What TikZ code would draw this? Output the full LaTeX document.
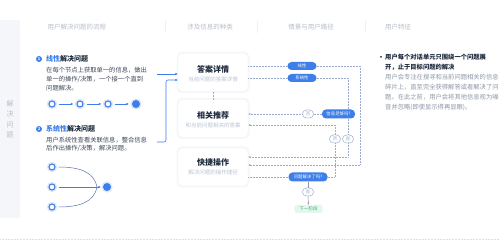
\documentclass[tikz,border=0pt]{standalone}
\usepackage{fontspec}
\setmainfont{Noto Sans CJK SC}
\usetikzlibrary{arrows.meta,calc}
\definecolor{mblue}{HTML}{3D7EEA}
\definecolor{halo}{HTML}{DCE7FB}
\definecolor{dotc}{HTML}{9AACCE}
\definecolor{hdrc}{HTML}{B7BECB}
\definecolor{bodyc}{HTML}{3C4656}
\definecolor{grayt}{HTML}{8E97A7}
\definecolor{titlec}{HTML}{1E2B3E}
\definecolor{subc}{HTML}{BBC4D4}
\definecolor{sidec}{HTML}{F4F6FA}
\definecolor{cardline}{HTML}{EEF1F6}
\definecolor{cardglow}{HTML}{F6F7FA}
\definecolor{greenbg}{HTML}{E4F7EC}
\definecolor{greent}{HTML}{3CB371}
\definecolor{curvec}{HTML}{5A74B0}
\definecolor{sepc}{HTML}{EEF0F5}
\definecolor{botc}{HTML}{DDE1E8}
\begin{document}
\begin{tikzpicture}[x=1pt,y=-1pt,
  hdr/.style={font=\fontsize{6.5}{7}\selectfont, text=hdrc, inner sep=0pt},
  body/.style={font=\fontsize{6.3}{7}\selectfont, text=bodyc, anchor=west, inner sep=0pt},
  rbody/.style={font=\fontsize{6.3}{7}\selectfont, text=grayt, anchor=west, inner sep=0pt},
  rbold/.style={font=\fontsize{6.3}{7}\bfseries\selectfont, text=titlec, anchor=west, inner sep=0pt},
  ltitle/.style={font=\fontsize{7}{8}\bfseries\selectfont, text=titlec, anchor=west, inner sep=0pt},
  card/.style={draw=cardline, fill=white, rounded corners=4pt, minimum width=70pt, minimum height=38pt, line width=0.4pt,
     preaction={draw=cardglow, line width=3pt}},
  ctitle/.style={font=\fontsize{8}{9}\bfseries\selectfont, text=titlec, inner sep=0pt},
  csub/.style={font=\fontsize{5.5}{6}\selectfont, text=subc, inner sep=0pt},
  pill/.style={fill=mblue, text=white, rounded corners=4pt, minimum width=29pt, minimum height=8pt, inner sep=0pt, font=\fontsize{4.4}{5}\selectfont},
  yn/.style={draw=dotc, fill=white, text=dotc, rounded corners=4pt, minimum width=11pt, minimum height=8pt, inner sep=0pt, line width=0.5pt, font=\fontsize{4.4}{5}\selectfont},
  dotl/.style={draw=dotc, densely dotted, line width=0.5pt},
  dotarr/.style={dotl, -{Latex[length=2.2pt,width=2.2pt]}},
  barr/.style={draw=mblue, line width=0.6pt, -{Latex[length=2.5pt,width=2.5pt]}},
  hollow/.style={circle, draw=mblue, line width=1.1pt, fill=white, minimum size=6pt, inner sep=0pt, preaction={draw=halo, line width=4pt}},
  filled/.style={circle, fill=mblue, minimum size=8pt, inner sep=0pt, preaction={draw=halo, line width=3pt}},
  badge/.style={circle, fill=mblue, text=white, minimum size=6pt, inner sep=0pt, font=\fontsize{4}{4}\bfseries\selectfont}
]
\useasboundingbox (0,0) rectangle (499,240);
\fill[white] (0,0) rectangle (499,240);

% sidebar
\fill[sidec] (0,20) rectangle (20,218);
\node[align=center, font=\fontsize{7}{10.4}\selectfont, text=hdrc, inner sep=0pt] (side) at (10,119.5) {解\\决\\问\\题};

% headers
\node[hdr] (h1) at (77,27) {用户解决问题的流程};
\node[hdr] (h2) at (210,27) {涉及信息的种类};
\node[hdr] (h3) at (311,27) {情景与用户路径};
\node[hdr] (h4) at (398,27) {用户特征};
\foreach \x in {165,257,365} \draw[sepc, line width=1pt] (\x,21) -- (\x,33);

% left: linear
\node[badge] (n1) at (39,59) {1};
\node[ltitle] (lt1) at (46,59) {{\color{mblue}线性}解决问题};
\node[body] (lb1) at (46,70.5) {在每个节点上获取单一的信息，做出};
\node[body] (lb2) at (46,79.5) {单一的操作/决策，一个接一个直到};
\node[body] (lb3) at (46,88.5) {问题解决。};
\node[hollow] (c1) at (52,104) {};
\node[hollow] (c2) at (80,104) {};
\node[hollow] (c3) at (108,104) {};
\node[filled] (c4) at (136,104) {};
\draw[barr, shorten <=3pt, shorten >=3pt] (c1) -- (c2);
\draw[barr, shorten <=3pt, shorten >=3pt] (c2) -- (c3);
\draw[barr, shorten <=3pt, shorten >=3pt] (c3) -- (c4);

% left: systematic
\node[badge] (n2) at (39,129) {2};
\node[ltitle] (lt2) at (46,129) {{\color{mblue}系统性}解决问题};
\node[body] (lb4) at (46,140) {用户系统性查看关联信息，整合信息};
\node[body] (lb5) at (46,148.5) {后作出操作/决策，解决问题。};
\node[hollow] (sa) at (52,167) {};
\node[hollow] (sb) at (52,187) {};
\node[hollow] (sc) at (52,207) {};
\node[filled] (fc) at (107,187) {};
\coordinate (m1) at (97,187);
\draw[curvec, line width=0.5pt] ([xshift=3pt]sa.east) .. controls (80,167) and (94,172) .. (m1);
\draw[curvec, line width=0.5pt] ([xshift=3pt]sc.east) .. controls (80,207) and (94,202) .. (m1);
\draw[barr, shorten <=3pt, shorten >=2pt] (sb.east) -- (fc.west);

% cards
\node[card] (b1) at (213,72.5) {};
\node[ctitle] (b1t) at (213,69) {答案详情};
\node[csub] (b1s) at (213,79) {当前问题的答案详情};
\node[card] (b2) at (213,118.5) {};
\node[ctitle] (b2t) at (213,115) {相关推荐};
\node[csub] (b2s) at (213,125) {和当前问题相关的答案};
\node[card] (b3) at (213,167) {};
\node[ctitle] (b3t) at (213,162) {快捷操作};
\node[csub] (b3s) at (213,172) {解决问题的操作捷径};
\draw[dotl] (b1.south) -- (b2.north);

% bracket arrows from left
\coordinate (s1) at (157,74);
\coordinate (s2) at (157,142);
\coordinate (k1) at (166,80);
\draw[barr] (s1) -- (s1 -| b1.west);
\draw[barr, rounded corners=2pt] (s2) -| (k1) -- (k1 -| b1.west);

% flow nodes
\node[pill] (lin) at (302,66) {线性};
\node[pill] (sys) at (302,78) {系统性};
\node[pill, minimum width=33pt, minimum height=9pt] (enough) at (338.5,114) {信息足够吗?};
\node[pill, minimum width=39pt, minimum height=9pt] (solved) at (308,177) {问题解决了吗?};
\node[yn] (fou1) at (308,114) {否};
\node[yn] (fou2) at (335,139) {否};
\node[yn] (shi1) at (348,139) {是};
\node[yn] (shi2) at (308,192) {是};
\node[fill=greenbg, text=greent, rounded corners=2pt, minimum width=28pt, minimum height=8pt, inner sep=0pt, font=\fontsize{4.6}{5}\selectfont] (next) at (308.5,209) {下一阶段};

% flow connectors
\coordinate (c165) at (360,165);
\coordinate (c157) at (348,157);
\coordinate (c125) at (335,125);
\draw[dotl] (lin.west -| b1.east) -- (lin.west);
\draw[dotarr] (lin.east) -| (c165) -- (c165 -| b3.east);
\draw[dotl] (sys.west -| b1.east) -- (sys.west);
\draw[dotl] (sys.east) -| (enough.north -| shi1);
\draw[dotl] (enough.south -| shi1) -- (shi1.north);
\draw[dotarr] (shi1.south) -- (c157) -- (c157 -| b3.east);
\draw[dotl] (enough.west) -- (fou1.east);
\draw[dotarr] (fou1.west) -- (fou1.west -| b2.east);
\draw[dotl] (solved.east) -| (fou2.south);
\draw[dotarr] (fou2.north) -- (c125) -- (c125 -| b2.east);
\draw[dotl] (solved.west -| b3.east) -- (solved.west);
\draw[grayt, line width=0.5pt] (solved.south) -- (shi2.north);
\draw[grayt, line width=0.5pt, -{Latex[length=2.2pt,width=2.2pt]}] (shi2.south) -- (next.north);

% right column
\fill[titlec] (381,57) circle (1pt);
\node[rbold] (r1) at (385,57) {用户每个对话单元只围绕一个问题展};
\node[rbold] (r2) at (385,67) {开，止于目标问题的解决};
\node[rbody] (r3) at (385,77.5) {用户会专注在搜寻和当前问题相关的信息};
\node[rbody] (r4) at (385,87.5) {碎片上，直至完全获得解答或者解决了问};
\node[rbody] (r5) at (385,97.5) {题。在此之前，用户会将其他信息视为噪};
\node[rbody] (r6) at (385,107.5) {音并忽略(即使显示得再显眼)。};

% bottom dotted line
\draw[densely dotted, color=botc, line width=0.5pt] (0,239) -- (499,239);
\end{tikzpicture}
\end{document}
